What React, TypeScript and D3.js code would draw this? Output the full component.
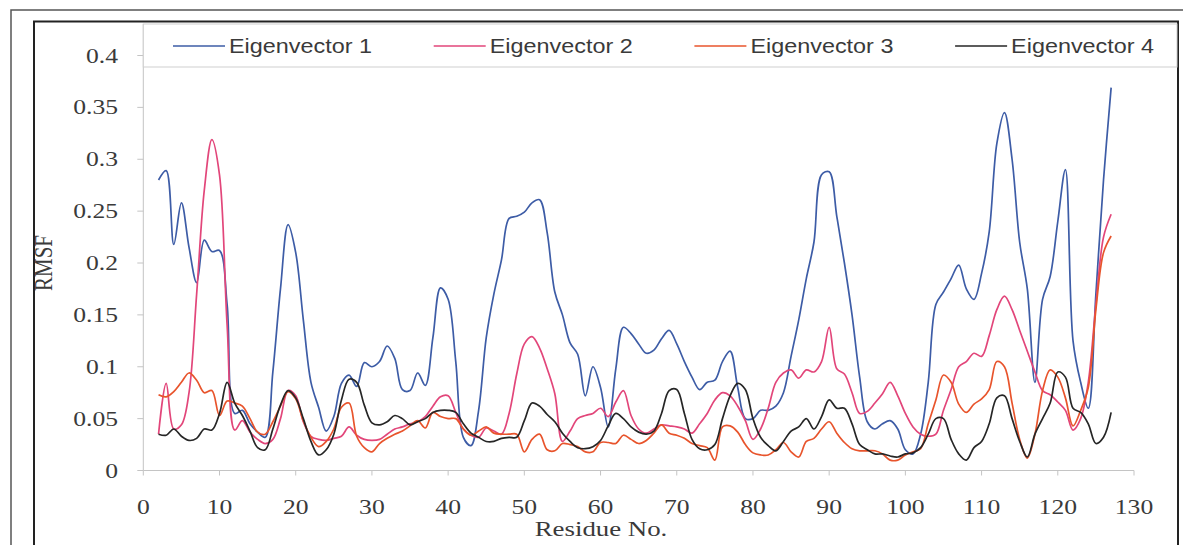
import React, { useEffect, useRef } from "react";
import * as d3 from "d3";

// RMSF per residue, residues 2..127
const firstResidue = 2;

const eigenvector1 = [
  0.280, 0.289, 0.218, 0.258, 0.215, 0.181, 0.222, 0.211, 0.212, 0.160,
  0.055, 0.058, 0.045, 0.037, 0.032, 0.095, 0.175, 0.237, 0.210, 0.145,
  0.085, 0.061, 0.038, 0.052, 0.084, 0.092, 0.081, 0.104, 0.100, 0.105,
  0.120, 0.108, 0.078, 0.077, 0.094, 0.082, 0.128, 0.176, 0.165, 0.105,
  0.032, 0.024, 0.058, 0.128, 0.170, 0.203, 0.243, 0.245, 0.249, 0.258,
  0.261, 0.229, 0.172, 0.150, 0.123, 0.112, 0.072, 0.100, 0.080, 0.042,
  0.098, 0.138, 0.132, 0.122, 0.113, 0.116, 0.127, 0.135, 0.122, 0.105,
  0.090, 0.078, 0.085, 0.087, 0.105, 0.115, 0.080, 0.050, 0.050, 0.058,
  0.058, 0.062, 0.075, 0.110, 0.145, 0.185, 0.220, 0.285, 0.288, 0.245,
  0.200, 0.150, 0.090, 0.047, 0.040, 0.045, 0.048, 0.040, 0.020, 0.016,
  0.035, 0.085, 0.160, 0.172, 0.185, 0.198, 0.175, 0.165, 0.190, 0.230,
  0.315, 0.345, 0.300, 0.220, 0.175, 0.085, 0.165, 0.187, 0.240, 0.290,
  0.125, 0.085, 0.060, 0.170, 0.280, 0.369,
];

const eigenvector2 = [
  0.035, 0.084, 0.040, 0.044, 0.075, 0.170, 0.270, 0.319, 0.285, 0.140,
  0.039, 0.048, 0.037, 0.030, 0.026, 0.030, 0.050, 0.077, 0.072, 0.047,
  0.033, 0.030, 0.029, 0.031, 0.033, 0.042, 0.034, 0.030, 0.029, 0.030,
  0.035, 0.040, 0.042, 0.045, 0.047, 0.052, 0.062, 0.071, 0.072, 0.056,
  0.040, 0.034, 0.032, 0.041, 0.038, 0.035, 0.055, 0.093, 0.122, 0.129,
  0.118, 0.098, 0.074, 0.028, 0.038, 0.050, 0.053, 0.055, 0.060, 0.052,
  0.066, 0.077, 0.053, 0.040, 0.036, 0.040, 0.044, 0.043, 0.042, 0.040,
  0.036, 0.045, 0.055, 0.068, 0.075, 0.072, 0.062, 0.048, 0.030, 0.040,
  0.060, 0.085, 0.094, 0.097, 0.089, 0.097, 0.095, 0.105, 0.138, 0.098,
  0.093, 0.075, 0.055, 0.057, 0.065, 0.074, 0.085, 0.072, 0.055, 0.042,
  0.035, 0.033, 0.035, 0.058, 0.078, 0.100, 0.105, 0.113, 0.110, 0.130,
  0.155, 0.168, 0.155, 0.135, 0.115, 0.095, 0.077, 0.073, 0.066, 0.058,
  0.039, 0.050, 0.085, 0.160, 0.225, 0.247,
];

const eigenvector3 = [
  0.073, 0.071, 0.076, 0.085, 0.094, 0.087, 0.075, 0.077, 0.053, 0.067,
  0.065, 0.062, 0.050, 0.037, 0.035, 0.047, 0.062, 0.076, 0.069, 0.048,
  0.032, 0.023, 0.028, 0.040, 0.061, 0.065, 0.033, 0.022, 0.018, 0.026,
  0.031, 0.035, 0.038, 0.043, 0.048, 0.041, 0.056, 0.052, 0.050, 0.050,
  0.040, 0.034, 0.038, 0.042, 0.036, 0.035, 0.035, 0.035, 0.018, 0.030,
  0.035, 0.020, 0.019, 0.026, 0.025, 0.023, 0.018, 0.018, 0.027, 0.027,
  0.026, 0.034, 0.030, 0.026, 0.029, 0.036, 0.044, 0.036, 0.034, 0.031,
  0.026, 0.024, 0.022, 0.010, 0.042, 0.043, 0.037, 0.025, 0.017, 0.015,
  0.015, 0.020, 0.027, 0.018, 0.013, 0.028, 0.031, 0.040, 0.047, 0.036,
  0.027, 0.021, 0.019, 0.019, 0.019, 0.016, 0.010, 0.010, 0.015, 0.018,
  0.021, 0.045, 0.068, 0.092, 0.085, 0.064, 0.056, 0.064, 0.069, 0.078,
  0.105, 0.100, 0.065, 0.030, 0.012, 0.035, 0.077, 0.097, 0.090, 0.070,
  0.043, 0.058, 0.080, 0.155, 0.210, 0.226,
];

const eigenvector4 = [
  0.035, 0.034, 0.040, 0.033, 0.029, 0.031, 0.040, 0.039, 0.055, 0.085,
  0.065, 0.053, 0.038, 0.022, 0.020, 0.040, 0.063, 0.077, 0.070, 0.050,
  0.028, 0.015, 0.020, 0.035, 0.068, 0.088, 0.085, 0.063, 0.046, 0.044,
  0.047, 0.053, 0.050, 0.044, 0.047, 0.050, 0.056, 0.058, 0.058, 0.056,
  0.045, 0.036, 0.032, 0.028, 0.028, 0.031, 0.032, 0.032, 0.048, 0.065,
  0.062, 0.054, 0.047, 0.036, 0.028, 0.022, 0.021, 0.023, 0.029, 0.043,
  0.055, 0.050, 0.042, 0.037, 0.035, 0.038, 0.055, 0.077, 0.078, 0.055,
  0.030, 0.021, 0.020, 0.025, 0.050, 0.072, 0.084, 0.078, 0.050, 0.032,
  0.024, 0.019, 0.028, 0.038, 0.042, 0.050, 0.040, 0.052, 0.068, 0.060,
  0.060, 0.045, 0.025, 0.020, 0.016, 0.016, 0.014, 0.013, 0.016, 0.017,
  0.022, 0.035, 0.050, 0.050, 0.030, 0.016, 0.010, 0.022, 0.028, 0.045,
  0.070, 0.072, 0.050, 0.028, 0.013, 0.035, 0.050, 0.065, 0.095, 0.090,
  0.060, 0.056, 0.045, 0.026, 0.032, 0.056,
];

const seriesNames = ["Eigenvector 1", "Eigenvector 2", "Eigenvector 3", "Eigenvector 4"];
const seriesColors = ["#3d5ca6", "#e2467a", "#e8542c", "#262626"];

const xTicks = [0, 10, 20, 30, 40, 50, 60, 70, 80, 90, 100, 110, 120, 130];
const yTicks = [0, 0.05, 0.1, 0.15, 0.2, 0.25, 0.3, 0.35, 0.4];
const yTickLabels = ["0", "0.05", "0.1", "0.15", "0.2", "0.25", "0.3", "0.35", "0.4"];

const W = 1183;
const H = 545;
const SERIF = "'Liberation Serif', 'Times New Roman', serif";
const SANS = "'Liberation Sans', Arial, sans-serif";
const STRETCH = 1.22; // the scan is a bit wider than tall

export default function App() {
  const svgRef = useRef(null);

  useEffect(() => {
    const svg = d3.select(svgRef.current);
    svg.selectAll("*").remove();

    const x = d3.scaleLinear().domain([0, 130]).range([143.3, 1134]);
    const y = d3.scaleLinear().domain([0, 0.4]).range([470.5, 55.5]);

    svg.append("rect").attr("width", W).attr("height", H).attr("fill", "#fff");

    // frames
    svg
      .append("rect")
      .attr("x", 11)
      .attr("y", 10)
      .attr("width", W + 20)
      .attr("height", H + 20)
      .attr("fill", "none")
      .attr("stroke", "#555")
      .attr("stroke-width", 1.5);
    svg
      .append("rect")
      .attr("x", 34)
      .attr("y", 21.5)
      .attr("width", 1178 - 34)
      .attr("height", H + 20)
      .attr("fill", "none")
      .attr("stroke", "#222")
      .attr("stroke-width", 2);

    // axes
    const axisColor = "#c4c4c4";
    svg
      .append("line")
      .attr("x1", x(0))
      .attr("x2", x(0))
      .attr("y1", 24)
      .attr("y2", y(0))
      .attr("stroke", axisColor);
    svg
      .append("line")
      .attr("x1", x(0))
      .attr("x2", x(130))
      .attr("y1", y(0))
      .attr("y2", y(0))
      .attr("stroke", axisColor);

    yTicks.forEach((t, i) => {
      svg
        .append("line")
        .attr("x1", x(0) - 6)
        .attr("x2", x(0))
        .attr("y1", y(t))
        .attr("y2", y(t))
        .attr("stroke", axisColor);
      svg
        .append("text")
        .attr("transform", `translate(${118},${y(t) + 7}) scale(${STRETCH},1)`)
        .attr("text-anchor", "end")
        .style("font-family", SERIF)
        .style("font-size", "21px")
        .attr("fill", "#3a3a3a")
        .text(yTickLabels[i]);
    });

    xTicks.forEach((t) => {
      svg
        .append("line")
        .attr("x1", x(t))
        .attr("x2", x(t))
        .attr("y1", y(0))
        .attr("y2", y(0) + 5)
        .attr("stroke", axisColor);
      svg
        .append("text")
        .attr("transform", `translate(${x(t)},${514}) scale(${STRETCH},1)`)
        .attr("text-anchor", "middle")
        .style("font-family", SERIF)
        .style("font-size", "21px")
        .attr("fill", "#3a3a3a")
        .text(t);
    });

    // axis titles
    svg
      .append("text")
      .attr("transform", `translate(${601},${536}) scale(${STRETCH},1)`)
      .attr("text-anchor", "middle")
      .style("font-family", SERIF)
      .style("font-size", "22px")
      .attr("fill", "#3a3a3a")
      .text("Residue No.");
    svg
      .append("text")
      .attr("transform", `translate(${52},${263}) scale(${STRETCH},1) rotate(-90)`)
      .attr("text-anchor", "middle")
      .style("font-family", SERIF)
      .style("font-size", "21px")
      .attr("fill", "#3a3a3a")
      .text("RMSF");

    // legend box
    svg
      .append("rect")
      .attr("x", x(0))
      .attr("y", 24)
      .attr("width", 1177 - x(0))
      .attr("height", 67 - 24)
      .attr("fill", "#fff")
      .attr("stroke", "#cfcfcf");

    const allSeries = [eigenvector1, eigenvector2, eigenvector3, eigenvector4];

    allSeries.forEach((values, i) => {
      const lx = 173 + i * 260.7;
      svg
        .append("line")
        .attr("x1", lx)
        .attr("x2", lx + 52)
        .attr("y1", 46)
        .attr("y2", 46)
        .attr("stroke", seriesColors[i])
        .attr("stroke-width", 1.5);
      svg
        .append("text")
        .attr("x", lx + 56)
        .attr("y", 53)
        .attr("textLength", 143)
        .attr("lengthAdjust", "spacingAndGlyphs")
        .style("font-family", SANS)
        .style("font-size", "20px")
        .attr("fill", "#3a3a3a")
        .text(seriesNames[i]);
    });

    // series lines
    const line = d3
      .line()
      .x((d, i) => x(firstResidue + i))
      .y((d) => y(d))
      .curve(d3.curveCatmullRom.alpha(0.5));

    allSeries.forEach((values, i) => {
      svg
        .append("path")
        .attr("d", line(values))
        .attr("fill", "none")
        .attr("stroke", seriesColors[i])
        .attr("stroke-width", 1.7)
        .attr("stroke-linejoin", "round");
    });
  }, []);

  return (
    <div style={{ position: "absolute", left: 0, top: 0, background: "#fff" }}>
      <svg ref={svgRef} width={W} height={H} style={{ display: "block" }} />
    </div>
  );
}
